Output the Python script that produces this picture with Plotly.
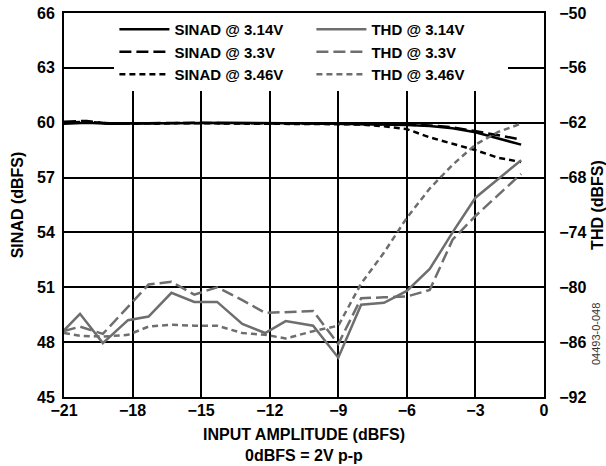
import plotly.graph_objects as go

# ---------------- data ----------------
sinad_x = [-21, -20, -19, -18, -17, -16, -15, -14, -13, -12, -11,
           -10, -9, -8, -7, -6, -5, -4, -3, -2, -1]
sinad_314 = [59.95, 60.0, 59.95, 59.95, 59.97, 59.95, 59.98, 60.0, 59.98, 59.97, 59.97,
             59.96, 59.95, 59.93, 59.9, 59.88, 59.82, 59.7, 59.48, 59.15, 58.8]
sinad_330 = [60.05, 60.1, 59.95, 59.97, 59.95, 59.97, 60.0, 59.97, 59.98, 59.96, 59.96,
             59.95, 59.95, 59.93, 59.92, 59.9, 59.85, 59.75, 59.55, 59.32, 59.07]
sinad_346 = [60.0, 60.05, 59.97, 59.95, 59.95, 59.98, 59.95, 59.96, 59.95, 59.95, 59.94,
             59.93, 59.92, 59.9, 59.8, 59.65, 59.2, 58.85, 58.5, 58.08, 57.85]

thd_x = [-21, -20.3, -19.3, -18.2, -17.3, -16.3, -15.3, -14.3, -13.2, -12.2, -11.3,
         -10.1, -9, -8, -7, -6, -5, -4, -3, -2, -1]
thd_314 = [-84.7, -82.9, -86.1, -83.6, -83.2, -80.6, -81.6, -81.6, -84.0, -85.0, -83.7,
           -84.2, -87.7, -81.9, -81.7, -80.4, -78.0, -74.0, -70.2, -68.2, -66.1]
thd_330 = [-84.8, -84.3, -85.1, -82.1, -79.7, -79.4, -80.8, -80.0, -81.4, -82.8, -82.7,
           -82.6, -86.2, -81.2, -81.1, -81.0, -80.3, -74.8, -72.2, -69.9, -67.6]
thd_346 = [-85.0, -85.3, -85.4, -85.2, -84.3, -84.1, -84.2, -84.2, -85.0, -85.2, -85.6,
           -84.8, -84.2, -79.6, -76.2, -72.4, -69.2, -66.6, -64.4, -63.0, -62.1]

x_ticks = [-21, -18, -15, -12, -9, -6, -3, 0]
left_ticks = [45, 48, 51, 54, 57, 60, 63, 66]
right_ticks = [-92, -86, -80, -74, -68, -62, -56, -50]

# ---------------- styles ----------------
FONT = "Liberation Sans"
GRAY = "#6e6e6e"
LW = 2.5
LONG = "12px,5px"
SHORT = "6px,4px"


def minus(v):
    return f"{v}".replace("-", "\u2212")


fig = go.Figure()

series = [
    ("SINAD @ 3.14V", sinad_x, sinad_314, "black", "solid", "y"),
    ("THD @ 3.14V", thd_x, thd_314, GRAY, "solid", "y2"),
    ("SINAD @ 3.3V", sinad_x, sinad_330, "black", LONG, "y"),
    ("THD @ 3.3V", thd_x, thd_330, GRAY, LONG, "y2"),
    ("SINAD @ 3.46V", sinad_x, sinad_346, "black", SHORT, "y"),
    ("THD @ 3.46V", thd_x, thd_346, GRAY, SHORT, "y2"),
]
for name, xs, ys, col, dash, ax in series:
    fig.add_trace(go.Scatter(
        x=xs, y=ys, name=name, mode="lines", yaxis=ax,
        line=dict(color=col, width=LW, dash=dash),
    ))

title_font = dict(family=FONT, size=16, color="black", weight="bold")
axis_common = dict(
    showline=True, linecolor="black", linewidth=2, automargin=False,
    ticks="", tickfont=dict(family=FONT, size=16, color="black", weight="bold"),
    zeroline=False,
)

fig.update_layout(
    width=606, height=466,
    margin=dict(l=64, r=62, t=13, b=69),
    paper_bgcolor="white", plot_bgcolor="white",
    font=dict(family=FONT, color="black"),
    xaxis=dict(
        range=[-21, 0], tickvals=x_ticks, ticktext=[minus(v) for v in x_ticks],
        showgrid=True, gridcolor="black", gridwidth=2, mirror=True,
        ticklabelstandoff=-2,
        title=dict(text="INPUT AMPLITUDE (dBFS)<br>0dBFS = 2V p-p",
                   font=title_font, standoff=11),
        **axis_common,
    ),
    yaxis=dict(
        range=[45, 66], tickvals=left_ticks,
        showgrid=True, gridcolor="black", gridwidth=2, mirror=True,
        ticklabelstandoff=4,
        title=dict(text="SINAD (dBFS)", font=title_font, standoff=9),
        **axis_common,
    ),
    yaxis2=dict(
        range=[-92, -50], tickvals=right_ticks,
        ticktext=[minus(v) for v in right_ticks],
        overlaying="y", side="right", showgrid=False,
        ticklabelstandoff=10,
        title=dict(text="THD (dBFS)", font=title_font, standoff=19),
        **axis_common,
    ),
    legend=dict(
        orientation="h", x=0.105, y=1.0, xanchor="left", yanchor="top",
        bgcolor="white", borderwidth=0,
        font=dict(family=FONT, size=15, color="black", weight="bold"),
        itemwidth=50, entrywidth=132, entrywidthmode="pixels",
        traceorder="normal",
    ),
    showlegend=True,
    annotations=[dict(
        text="04493-0-048", xref="paper", yref="paper", x=1.125, y=0.078,
        showarrow=False, textangle=-90,
        font=dict(family=FONT, size=11, color="#333333"),
    )],
)

fig.write_html("out.html", config={"displayModeBar": False},
               post_script="document.body.style.margin='0';")
